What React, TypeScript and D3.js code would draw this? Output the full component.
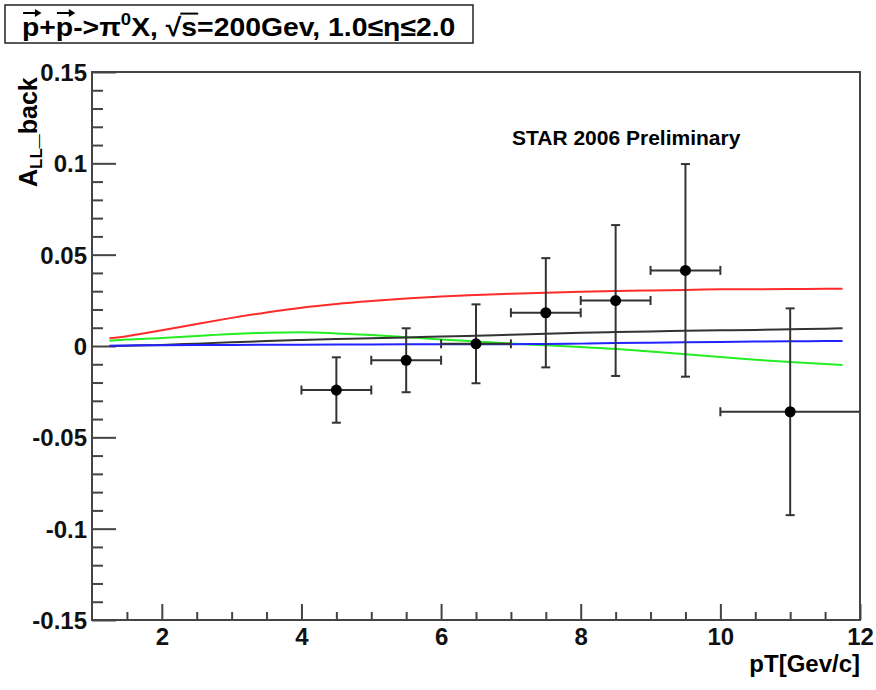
import React, { useRef, useEffect } from "react";
import * as d3 from "d3";

// measured points (pT bins)
const binCenter = [4.5, 5.5, 6.5, 7.5, 8.5, 9.5, 11];
const binLow = [4, 5, 6, 7, 8, 9, 10];
const binHigh = [5, 6, 7, 8, 9, 10, 12];
const allBack = [-0.0241, -0.0078, 0.0012, 0.0182, 0.0249, 0.0414, -0.036];
const allBackErr = [0.0179, 0.0175, 0.0216, 0.0299, 0.0413, 0.0582, 0.0566];

// theory curves
const curvePt = [1.25, 1.5, 2, 2.5, 3, 3.5, 4, 4.5, 5, 5.5, 6, 6.5, 7, 7.5, 8, 8.5, 9, 9.5, 10, 10.5, 11, 11.5, 11.75];
const redCurve = [0.0042, 0.0054, 0.0086, 0.0121, 0.0154, 0.0184, 0.021, 0.023, 0.0246, 0.026, 0.0271, 0.0279, 0.0286, 0.0292, 0.0297, 0.0301, 0.0304, 0.0307, 0.031, 0.0311, 0.0312, 0.0313, 0.0313];
const greenCurve = [0.0029, 0.0035, 0.0044, 0.0055, 0.0066, 0.0073, 0.0075, 0.0069, 0.006, 0.0048, 0.0036, 0.0025, 0.0014, 0.0004, -0.0006, -0.0016, -0.003, -0.0045, -0.006, -0.0075, -0.0088, -0.0099, -0.0104];
const blackCurve = [0.0, 0.0002, 0.0006, 0.0013, 0.002, 0.0027, 0.0033, 0.0038, 0.0042, 0.0047, 0.0052, 0.0056, 0.0062, 0.0067, 0.0072, 0.0076, 0.008, 0.0083, 0.0086, 0.0088, 0.0092, 0.0095, 0.0097];
const blueCurve = [0.0002, 0.0003, 0.0004, 0.0005, 0.0006, 0.0007, 0.0007, 0.0008, 0.0008, 0.0009, 0.0009, 0.001, 0.001, 0.0011, 0.0013, 0.0016, 0.0018, 0.002, 0.0022, 0.0024, 0.0026, 0.0027, 0.0028];

const xMajor = [2, 4, 6, 8, 10, 12];
const yMajor = [-0.15, -0.1, -0.05, 0, 0.05, 0.1, 0.15];
const yLabels = ["-0.15", "-0.1", "-0.05", "0", "0.05", "0.1", "0.15"];

const FONT = "'Liberation Sans', Arial, Helvetica, sans-serif";

export default function App() {
  const svgRef = useRef<SVGSVGElement>(null);

  useEffect(() => {
    const svg = d3.select(svgRef.current);
    svg.selectAll("*").remove();

    const x = d3.scaleLinear().domain([1, 12]).range([92, 860]);
    const y = d3.scaleLinear().domain([-0.15, 0.15]).range([620, 72]);

    svg.append("rect").attr("width", 876).attr("height", 690).attr("fill", "white");

    // minor ticks
    const xMinor = d3.range(1.5, 12, 0.5).filter(v => v % 2 !== 0);
    const yMinor = d3.range(-14, 15).map(v => v / 100).filter(v => Math.abs(Math.round(v * 100)) % 5 !== 0);

    const axisColor = "#444";

    const xAxis = d3.axisBottom(x).tickValues(xMajor).tickSize(-16).tickSizeOuter(0).tickPadding(8).tickFormat(d3.format("d"));
    const gx = svg.append("g").attr("transform", "translate(0,620)").call(xAxis);
    const xAxisMinor = d3.axisBottom(x).tickValues(xMinor).tickSize(-8).tickSizeOuter(0).tickFormat(() => "");
    const gxm = svg.append("g").attr("transform", "translate(0,620)").call(xAxisMinor);

    const yAxis = d3.axisLeft(y).tickValues(yMajor).tickSize(-24).tickSizeOuter(0).tickPadding(5)
      .tickFormat((d, i) => yLabels[i]);
    const gy = svg.append("g").attr("transform", "translate(92,0)").call(yAxis);
    const yAxisMinor = d3.axisLeft(y).tickValues(yMinor).tickSize(-11).tickSizeOuter(0).tickFormat(() => "");
    const gym = svg.append("g").attr("transform", "translate(92,0)").call(yAxisMinor);

    [gx, gxm, gy, gym].forEach(g => {
      g.select(".domain").remove();
      g.selectAll("line").attr("stroke", axisColor).attr("stroke-width", 2);
      g.selectAll("text").attr("font-family", FONT).attr("font-weight", "bold").attr("font-size", 24).attr("fill", "#111");
    });
    gy.selectAll("text").attr("dy", "0.36em");

    // frame
    svg.append("rect")
      .attr("x", 92).attr("y", 72).attr("width", 768).attr("height", 548)
      .attr("fill", "none").attr("stroke", axisColor).attr("stroke-width", 2);

    // curves
    const line = d3.line<number>().x((d, i) => x(curvePt[i])).y(d => y(d)).curve(d3.curveMonotoneX);
    const curves: [number[], string][] = [
      [redCurve, "#ff2a2a"],
      [greenCurve, "#22ee22"],
      [blackCurve, "#333333"],
      [blueCurve, "#2222ff"],
    ];
    curves.forEach(([vals, col]) => {
      svg.append("path").attr("d", line(vals)).attr("fill", "none").attr("stroke", col).attr("stroke-width", 2);
    });

    // data points with error bars
    const pts = svg.append("g").attr("stroke", "#333").attr("stroke-width", 2);
    const cap = 4.5;
    binCenter.forEach((c, i) => {
      const cx = x(c), cy = y(allBack[i]);
      const yTop = y(allBack[i] + allBackErr[i]), yBot = y(allBack[i] - allBackErr[i]);
      const xl = x(binLow[i]), xh = x(binHigh[i]);
      pts.append("line").attr("x1", cx).attr("x2", cx).attr("y1", yTop).attr("y2", yBot);
      pts.append("line").attr("x1", cx - cap).attr("x2", cx + cap).attr("y1", yTop).attr("y2", yTop);
      pts.append("line").attr("x1", cx - cap).attr("x2", cx + cap).attr("y1", yBot).attr("y2", yBot);
      pts.append("line").attr("x1", xl).attr("x2", xh).attr("y1", cy).attr("y2", cy);
      pts.append("line").attr("x1", xl).attr("x2", xl).attr("y1", cy - cap).attr("y2", cy + cap);
      if (binHigh[i] < 12) {
        pts.append("line").attr("x1", xh).attr("x2", xh).attr("y1", cy - cap).attr("y2", cy + cap);
      }
      svg.append("circle").attr("cx", cx).attr("cy", cy).attr("r", 5.5).attr("fill", "black");
    });

    // STAR label
    svg.append("text").attr("x", 512).attr("y", 145)
      .attr("font-family", FONT).attr("font-weight", "bold").attr("font-size", 21)
      .text("STAR 2006 Preliminary");

    // x axis title
    svg.append("text").attr("x", 860).attr("y", 672).attr("text-anchor", "end")
      .attr("font-family", FONT).attr("font-weight", "bold").attr("font-size", 24)
      .text("pT[Gev/c]");

    // y axis title
    const yt = svg.append("text").attr("transform", "translate(37,187) rotate(-90)")
      .attr("font-family", FONT).attr("font-weight", "bold").attr("font-size", 25);
    yt.append("tspan").text("A");
    yt.append("tspan").attr("font-size", 17).attr("dy", 5).text("LL");
    yt.append("tspan").attr("dy", -5).text("_back");

    // title box
    svg.append("rect").attr("x", 5).attr("y", 5).attr("width", 468).attr("height", 38)
      .attr("fill", "white").attr("stroke", "#222").attr("stroke-width", 1.5);
    const tg = svg.append("g").attr("transform", "translate(22,36) scale(1.09,1)");
    const tt = tg.append("text").attr("x", 0).attr("y", 0)
      .attr("font-family", FONT).attr("font-weight", "bold").attr("font-size", 26);
    tt.append("tspan").text("p+p->\u03c0");
    tt.append("tspan").attr("font-size", 17).attr("dy", -11).text("0");
    tt.append("tspan").attr("dy", 11).text("X, \u221as=200Gev, 1.0\u2264\u03b7\u22642.0");

    // arrows over p's and bar over s, placed from glyph extents
    const node = tt.node() as SVGTextElement;
    const full = node.textContent || "";
    const arrowAt = (idx: number) => {
      const b = node.getExtentOfChar(idx);
      const ay = -23;
      const x1 = b.x + 1, x2 = b.x + b.width + 1;
      tg.append("line").attr("x1", x1).attr("x2", x2 - 3).attr("y1", ay).attr("y2", ay)
        .attr("stroke", "black").attr("stroke-width", 2);
      tg.append("path").attr("d", `M${x2 - 5},${ay - 4} L${x2 + 1},${ay} L${x2 - 5},${ay + 4} Z`).attr("fill", "black");
    };
    arrowAt(0);
    arrowAt(2);
    const sqIdx = full.indexOf("\u221a");
    if (sqIdx >= 0) {
      const bq = node.getExtentOfChar(sqIdx);
      const bs = node.getExtentOfChar(sqIdx + 1);
      tg.append("line").attr("x1", bq.x + bq.width - 1).attr("x2", bs.x + bs.width + 1)
        .attr("y1", bq.y + 1.5).attr("y2", bq.y + 1.5).attr("stroke", "black").attr("stroke-width", 2);
    }
  }, []);

  return (
    <div style={{ position: "absolute", left: 0, top: 0 }}>
      <svg ref={svgRef} width={876} height={690} />
    </div>
  );
}
